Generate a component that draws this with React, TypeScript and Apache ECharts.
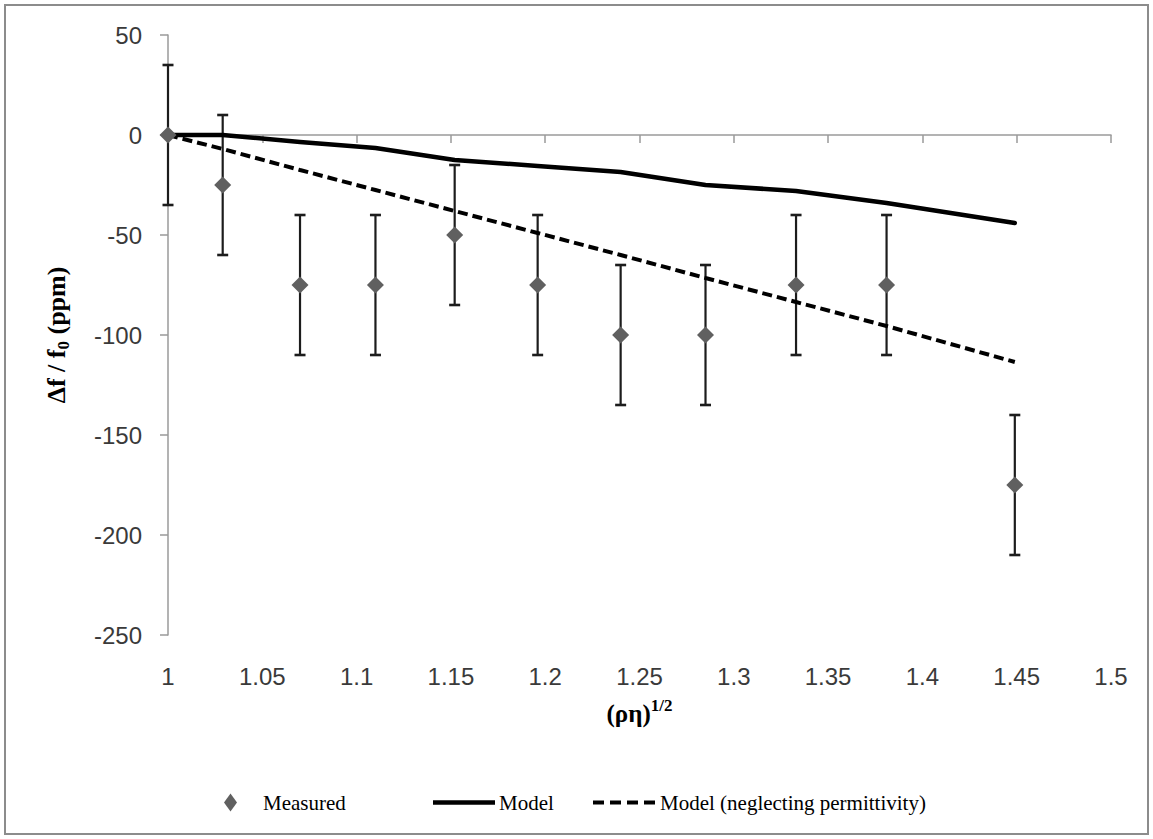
import React, { useEffect, useRef } from "react";
import * as echarts from "echarts";

// (ρη)^1/2 sample positions
const xValues = [1.0, 1.029, 1.07, 1.11, 1.152, 1.196, 1.24, 1.285, 1.333, 1.381, 1.449];
// Measured frequency shift, ppm
const measured = [0, -25, -75, -75, -50, -75, -100, -100, -75, -75, -175];
// Half-width of the measurement uncertainty, ppm
const errorHalf = [35, 35, 35, 35, 35, 35, 35, 35, 35, 35, 35];
// Full model prediction, ppm
const model = [0, 0, -3.5, -6.5, -12.5, -15.5, -18.5, -25, -28, -34, -44];
// Model prediction without the permittivity term, ppm
const modelNoPerm = [0, -7, -17.5, -27.5, -38, -49, -60, -71.5, -83.5, -95.5, -113.5];

const xMin = 1;
const xMax = 1.5;
const xStep = 0.05;
const yMin = -250;
const yMax = 50;
const yStep = 50;

const SERIF = "'Liberation Serif', 'DejaVu Serif', serif";
const SANS = "'Liberation Sans', Arial, sans-serif";

// Legend glyphs: a solid bar and a four-dash bar
const SOLID_ICON = "path://M0,0h62v4.5h-62z";
const DASHED_ICON = "path://M0,0h11v4h-11zM17,0h11v4h-11zM34,0h11v4h-11zM51,0h11v4h-11z";

export default function App() {
  const ref = useRef<HTMLDivElement>(null);

  useEffect(() => {
    if (!ref.current) return;
    const chart = echarts.init(ref.current, undefined, { renderer: "svg" });

    const legendText = { fontFamily: SERIF, fontSize: 21, color: "#000" };
    const tickLabel = { fontFamily: SANS, fontSize: 24, color: "#3a3a3a" };
    const titleBold = { fontFamily: SERIF, fontWeight: "bold", color: "#000" };

    chart.setOption({
      animation: false,
      backgroundColor: "#fff",
      grid: { left: 168, top: 35, width: 943, height: 600, containLabel: false },
      graphic: [
        {
          type: "rect",
          shape: { x: 5, y: 5, width: 1143, height: 829 },
          style: { fill: "none", stroke: "#8c8c8c", lineWidth: 2 },
          silent: true,
        },
      ],
      xAxis: [
        {
          type: "value",
          min: xMin,
          max: xMax,
          interval: xStep,
          position: "bottom",
          axisLine: { show: false, onZero: false },
          axisTick: { show: false },
          splitLine: { show: false },
          axisLabel: { ...tickLabel, margin: 29, formatter: (v: number) => String(+v.toFixed(2)) },
          name: "{a|(ρη)}{sup|1/2}",
          nameLocation: "middle",
          nameGap: 62,
          nameTextStyle: {
            rich: {
              a: { ...titleBold, fontSize: 25, lineHeight: 32 },
              sup: { ...titleBold, fontSize: 17, lineHeight: 32, verticalAlign: "top", padding: [0, 0, 10, 0] },
            },
          },
        },
        {
          type: "value",
          min: xMin,
          max: xMax,
          interval: xStep,
          position: "bottom",
          axisLine: { show: true, onZero: true, lineStyle: { color: "#9a9a9a", width: 1.5 } },
          axisTick: { show: true, length: 8, lineStyle: { color: "#9a9a9a", width: 1.5 } },
          axisLabel: { show: false },
          splitLine: { show: false },
        },
      ],
      yAxis: {
        type: "value",
        min: yMin,
        max: yMax,
        interval: yStep,
        axisLine: { show: true, onZero: false, lineStyle: { color: "#9a9a9a", width: 1.5 } },
        axisTick: { show: true, length: 8, lineStyle: { color: "#9a9a9a", width: 1.5 } },
        splitLine: { show: false },
        axisLabel: { ...tickLabel, margin: 26 },
        name: "{a|Δf / f}{sub|0}{a| (ppm)}",
        nameLocation: "middle",
        nameRotate: 90,
        nameGap: 96,
        nameTextStyle: {
          rich: {
            a: { ...titleBold, fontSize: 26, lineHeight: 32 },
            sub: { ...titleBold, fontSize: 17, lineHeight: 32, verticalAlign: "bottom", padding: [8, 0, 0, 0] },
          },
        },
      },
      legend: [
        {
          data: [{ name: "Measured", icon: "diamond" }],
          left: 219,
          top: 787,
          itemWidth: 13,
          itemHeight: 18,
          textStyle: { ...legendText, padding: [0, 0, 0, 21] },
          selectedMode: false,
        },
        {
          data: [{ name: "Model", icon: SOLID_ICON }],
          left: 428,
          top: 787,
          itemWidth: 62,
          itemHeight: 4.5,
          textStyle: { ...legendText, padding: [0, 0, 0, -1] },
          selectedMode: false,
        },
        {
          data: [{ name: "Model (neglecting permittivity)", icon: DASHED_ICON }],
          left: 588,
          top: 787,
          itemWidth: 62,
          itemHeight: 4,
          textStyle: { ...legendText, padding: [0, 0, 0, 0] },
          selectedMode: false,
        },
      ],
      series: [
        {
          name: "Error",
          type: "custom",
          z: 1,
          silent: true,
          data: xValues.map((x, i) => [x, measured[i] - errorHalf[i], measured[i] + errorHalf[i]]),
          encode: { x: 0, y: [1, 2] },
          renderItem: (_params: any, api: any) => {
            const x = api.value(0);
            const lo = api.coord([x, api.value(1)]);
            const hi = api.coord([x, api.value(2)]);
            const cap = 5.5;
            const style = { stroke: "#1c1c1c", lineWidth: 2.2 };
            return {
              type: "group",
              children: [
                { type: "line", shape: { x1: lo[0], y1: lo[1], x2: hi[0], y2: hi[1] }, style },
                { type: "line", shape: { x1: lo[0] - cap, y1: lo[1], x2: lo[0] + cap, y2: lo[1] }, style: { ...style, lineWidth: 2.6 } },
                { type: "line", shape: { x1: hi[0] - cap, y1: hi[1], x2: hi[0] + cap, y2: hi[1] }, style: { ...style, lineWidth: 2.6 } },
              ],
            };
          },
        },
        {
          name: "Model",
          type: "line",
          z: 2,
          symbol: "none",
          data: xValues.map((x, i) => [x, model[i]]),
          lineStyle: { color: "#000", width: 4.5, cap: "round", join: "round" },
          itemStyle: { color: "#000" },
        },
        {
          name: "Model (neglecting permittivity)",
          type: "line",
          z: 2,
          symbol: "none",
          data: xValues.map((x, i) => [x, modelNoPerm[i]]),
          lineStyle: { color: "#000", width: 4, type: [10, 5] },
          itemStyle: { color: "#000" },
        },
        {
          name: "Measured",
          type: "scatter",
          z: 3,
          symbol: "diamond",
          symbolSize: 17,
          data: xValues.map((x, i) => [x, measured[i]]),
          itemStyle: { color: "#606060", opacity: 1 },
        },
      ],
    });

    return () => chart.dispose();
  }, []);

  return (
    <div
      ref={ref}
      style={{ position: "absolute", left: 0, top: 0, width: 1153, height: 839, background: "#fff" }}
    />
  );
}
